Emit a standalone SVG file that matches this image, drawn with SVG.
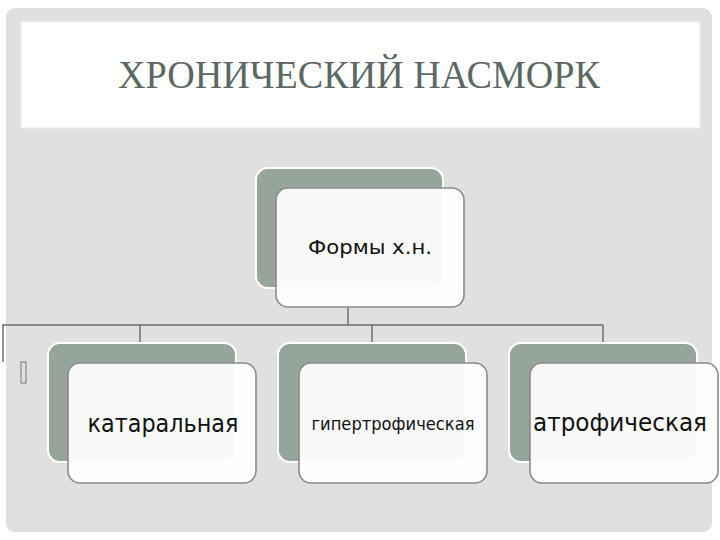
<svg xmlns="http://www.w3.org/2000/svg" width="720" height="540" viewBox="0 0 720 540">
  <style>
    .back{fill:#95a59a;stroke:#ffffff;stroke-width:2}
    .front{fill:#ffffff;fill-opacity:0.93;stroke:#8a8a8a;stroke-width:1.6}
    .lbl{font-family:"DejaVu Sans","Noto Sans",sans-serif;fill:#111;text-anchor:middle}
    .conn{stroke:#6e6e6e;stroke-width:1.5;fill:none}
  </style>
  <rect x="0" y="0" width="720" height="540" fill="#ffffff"/>
  <rect x="6" y="8" width="706" height="524" rx="9" fill="#e0e0e0"/>
  <rect x="21" y="22" width="679" height="106" fill="#ffffff" stroke="#eeeeee" stroke-width="1"/>
  <text x="359" y="88" font-family="'Liberation Serif','DejaVu Serif',serif" font-size="39" fill="#5b6763" text-anchor="middle" textLength="482" lengthAdjust="spacingAndGlyphs">ХРОНИЧЕСКИЙ НАСМОРК</text>

  <g id="connectors">
    <path class="conn" d="M348 307 V325"/>
    <path class="conn" d="M2 325 H603"/>
    <path class="conn" d="M3 325 V362"/>
    <path class="conn" d="M140 325 V343"/>
    <path class="conn" d="M372 325 V343"/>
    <path class="conn" d="M603 325 V343"/>
  </g>
  <rect x="21" y="362" width="5" height="21" fill="none" stroke="#777" stroke-width="1"/>

  <g id="node-root">
    <rect class="back" x="256" y="168" width="187" height="120" rx="12"/>
    <rect class="front" x="276" y="188" width="188" height="119" rx="12"/>
    <text class="lbl" x="370" y="254" font-size="20" textLength="124" lengthAdjust="spacingAndGlyphs">Формы х.н.</text>
  </g>
  <g id="node-catarrhal">
    <rect class="back" x="48" y="343" width="188" height="119" rx="12"/>
    <rect class="front" x="68" y="363" width="188" height="120" rx="12"/>
    <text class="lbl" x="163" y="432" font-size="25" textLength="151" lengthAdjust="spacingAndGlyphs">катаральная</text>
  </g>
  <g id="node-hypertrophic">
    <rect class="back" x="278" y="343" width="188" height="119" rx="12"/>
    <rect class="front" x="299" y="363" width="188" height="120" rx="12"/>
    <text class="lbl" x="393" y="430" font-size="18" textLength="163" lengthAdjust="spacingAndGlyphs">гипертрофическая</text>
  </g>
  <g id="node-atrophic">
    <rect class="back" x="509" y="343" width="188" height="119" rx="12"/>
    <rect class="front" x="530" y="363" width="188" height="120" rx="12"/>
    <text class="lbl" x="620" y="431" font-size="25" textLength="174" lengthAdjust="spacingAndGlyphs">атрофическая</text>
  </g>
</svg>
